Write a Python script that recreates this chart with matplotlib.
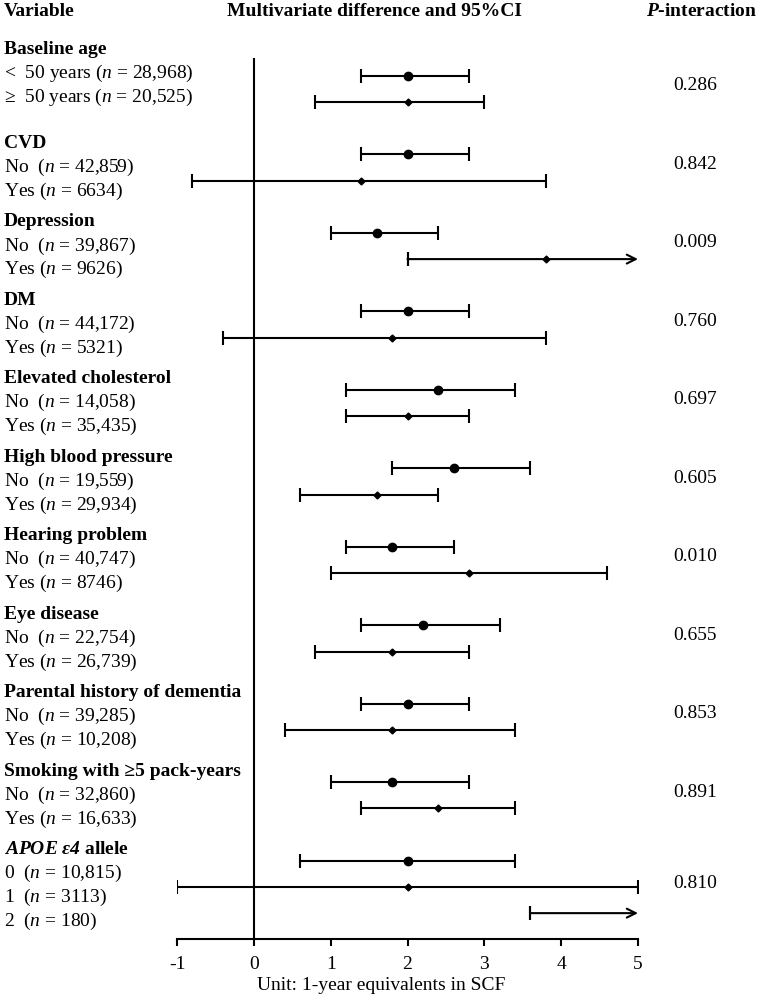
import numpy as np
import matplotlib
matplotlib.use("Agg")
from matplotlib import pyplot as plt

plt.rcParams['font.family'] = ['Liberation Serif', 'DejaVu Serif']
plt.rcParams['font.size'] = 14
plt.rcParams['mathtext.fontset'] = 'custom'
plt.rcParams['mathtext.rm'] = 'Liberation Serif'
plt.rcParams['mathtext.it'] = 'Liberation Serif:italic'
plt.rcParams['mathtext.bf'] = 'Liberation Serif:bold'
plt.rcParams['mathtext.bfit'] = 'Liberation Serif:bold:italic'

groups = [
    "Baseline age", "CVD", "Depression", "DM", "Elevated cholesterol",
    "High blood pressure", "Hearing problem", "Eye disease",
    "Parental history of dementia", "Smoking with \u22655 pack-years",
    "$\\mathbfit{APOE\\ \u03b54}$ allele",
]
subgroups = [
    ["<  50 years ($n$ = 28,968)", "\u2265  50 years ($n$ = 20,525)"],
    ["No  ($n$ = 42,859)", "Yes ($n$ = 6634)"],
    ["No  ($n$ = 39,867)", "Yes ($n$ = 9626)"],
    ["No  ($n$ = 44,172)", "Yes ($n$ = 5321)"],
    ["No  ($n$ = 14,058)", "Yes ($n$ = 35,435)"],
    ["No  ($n$ = 19,559)", "Yes ($n$ = 29,934)"],
    ["No  ($n$ = 40,747)", "Yes ($n$ = 8746)"],
    ["No  ($n$ = 22,754)", "Yes ($n$ = 26,739)"],
    ["No  ($n$ = 39,285)", "Yes ($n$ = 10,208)"],
    ["No  ($n$ = 32,860)", "Yes ($n$ = 16,633)"],
    ["0  ($n$ = 10,815)", "1  ($n$ = 3113)", "2  ($n$ = 180)"],
]
# nan = not shown / beyond the scale (drawn as arrow)
estimates = [
    [2.0, 2.0], [2.0, 1.4], [1.6, 3.8], [2.0, 1.8], [2.4, 2.0], [2.6, 1.6],
    [1.8, 2.8], [2.2, 1.8], [2.0, 1.8], [1.8, 2.4], [2.0, 2.0, np.nan],
]
ci_low = [
    [1.4, 0.8], [1.4, -0.8], [1.0, 2.0], [1.4, -0.4], [1.2, 1.2], [1.8, 0.6],
    [1.2, 1.0], [1.4, 0.8], [1.4, 0.4], [1.0, 1.4], [0.6, -1.0, 3.6],
]
ci_high = [
    [2.8, 3.0], [2.8, 3.8], [2.4, np.nan], [2.8, 3.8], [3.4, 2.8], [3.6, 2.4],
    [2.6, 4.6], [3.2, 2.8], [2.8, 3.4], [2.8, 3.4], [3.4, 5.0, np.nan],
]
p_values = ["0.286", "0.842", "0.009", "0.760", "0.697", "0.605",
            "0.010", "0.655", "0.853", "0.891", "0.810"]
x_ticks = [-1, 0, 1, 2, 3, 4, 5]

W, H = 758, 997
fig = plt.figure(figsize=(W / 100, H / 100), dpi=100)

px_left, px_right = 177, 638
px_top, px_axis = 40, 939.3
ax = fig.add_axes([px_left / W, (H - px_axis) / H,
                   (px_right - px_left) / W, (px_axis - px_top) / H])
ax.set_xlim(x_ticks[0], x_ticks[-1])
ax.set_ylim(34, -0.375)

for s in ['top', 'right', 'left']:
    ax.spines[s].set_visible(False)
ax.spines['bottom'].set_linewidth(1.5)
ax.set_yticks([])
ax.set_xticks(x_ticks)
ax.set_xticklabels([str(t) for t in x_ticks])
ax.tick_params(axis='x', direction='out', length=5, width=1.5, pad=7)
ax.vlines(0, 0.31, 34, color='black', lw=1.5)

lab_x = (4 - px_left) / (px_right - px_left)
p_x = (695 - px_left) / (px_right - px_left)
tr = ax.get_yaxis_transform()

# text lines are set a bit tighter than the bar rows
text_step = 0.917
line = 0
for g, name in enumerate(groups):
    head = line if g == 0 else line + 1 - 0.42
    ax.text(lab_x, head, name, transform=tr, ha='left', va='center',
            fontweight='bold', clip_on=False)
    rows = []
    for k, lab in enumerate(subgroups[g]):
        y = line + 1 + k
        rows.append(y)
        ax.text(lab_x, head + text_step * (k + 1), lab, transform=tr,
                ha='left', va='center', clip_on=False)
        lo, hi, est = ci_low[g][k], ci_high[g][k], estimates[g][k]
        if np.isnan(hi):
            ax.errorbar([lo], [y], xerr=[[0], [0]], fmt='none',
                        ecolor='black', elinewidth=1.5, capsize=5, capthick=1.5)
            ax.annotate('', xy=(x_ticks[-1], y), xytext=(lo, y),
                        arrowprops=dict(arrowstyle='->', lw=1.5, color='black',
                                        shrinkA=0, shrinkB=0,
                                        mutation_scale=16))
        else:
            ax.errorbar([(lo + hi) / 2], [y], xerr=[[(hi - lo) / 2], [(hi - lo) / 2]],
                        fmt='none', ecolor='black', elinewidth=1.5,
                        capsize=5, capthick=1.5)
        if not np.isnan(est):
            if k == 0:
                ax.plot(est, y, 'o', color='black', markersize=6)
            else:
                ax.plot(est, y, 'D', color='black', markersize=3.5)
    ax.text(p_x, np.mean(rows) - 0.12, p_values[g], transform=tr,
            ha='center', va='center', clip_on=False)
    line += len(subgroups[g]) + 1

head_y = -1.45
ax.text(lab_x, head_y, "Variable", transform=tr, ha='left', va='center',
        fontweight='bold', clip_on=False)
ax.text((374 - px_left) / (px_right - px_left), head_y,
        "Multivariate difference and 95%CI", transform=tr, ha='center',
        va='center', fontweight='bold', clip_on=False)
ax.text((757 - px_left) / (px_right - px_left), head_y,
        "$\\mathbfit{P}$-interaction", transform=tr, ha='right',
        va='center', fontweight='bold', clip_on=False)

ax.set_xlabel("Unit: 1-year equivalents in SCF")
ax.xaxis.set_label_coords((381 - px_left) / (px_right - px_left), -0.042)

fig.savefig("out.png", dpi=100)
